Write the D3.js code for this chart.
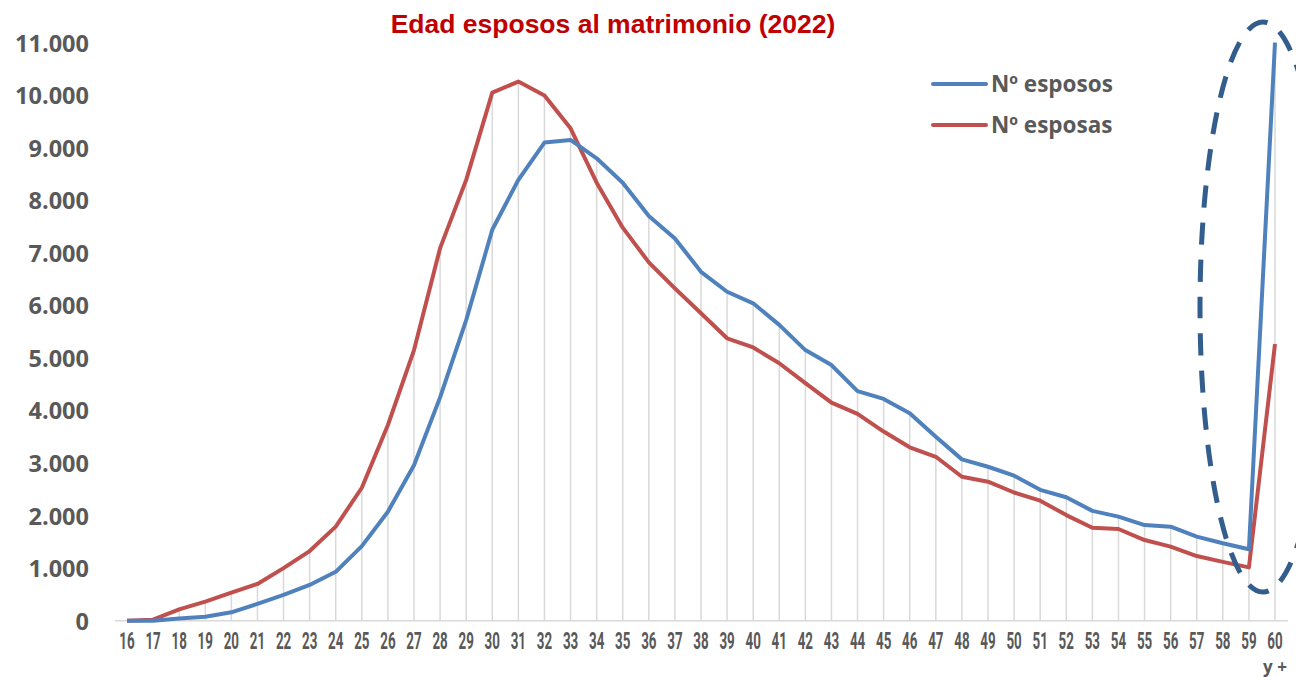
<!DOCTYPE html>
<html>
<head>
<meta charset="utf-8">
<script src="https://cdn.jsdelivr.net/npm/d3@7"></script>
<style>
  body { margin: 0; background: #fff; }
  svg { display: block; }
</style>
</head>
<body>
<div id="chart"></div>
<script>
// ages 16 .. 60 (60 = "60 y +")
var ages = ["16","17","18","19","20","21","22","23","24","25","26","27","28","29","30",
  "31","32","33","34","35","36","37","38","39","40","41","42","43","44","45",
  "46","47","48","49","50","51","52","53","54","55","56","57","58","59","60"];

var esposos = [0, 0, 40, 75, 160, 320, 490, 680, 930, 1420, 2075, 2960, 4250, 5720, 7440,
  8390, 9100, 9150, 8800, 8335, 7700, 7275, 6640, 6260, 6040, 5630, 5150, 4865, 4370, 4220,
  3950, 3500, 3070, 2930, 2760, 2490, 2350, 2090, 1980, 1820, 1790, 1600, 1475, 1360, 11000];

var esposas = [0, 20, 215, 362, 533, 700, 1000, 1325, 1790, 2530, 3725, 5150, 7090, 8390, 10050,
  10260, 9995, 9370, 8335, 7480, 6820, 6325, 5850, 5375, 5200, 4900, 4520, 4150, 3935, 3600,
  3300, 3120, 2740, 2645, 2440, 2285, 2010, 1770, 1745, 1535, 1410, 1230, 1120, 1015, 5265];

var yTicks = [0, 1000, 2000, 3000, 4000, 5000, 6000, 7000, 8000, 9000, 10000, 11000];

var W = 1296, H = 677;
var blue = "#4f81bd", red = "#c0504d", grey = "#595959";

var svg = d3.select("#chart").append("svg")
  .attr("width", W)
  .attr("height", H);

var x = d3.scalePoint()
  .domain(ages)
  .range([127, 1275]);

var y = d3.scaleLinear()
  .domain([0, 11000])
  .range([620.7, 42.7]);

var fmt = function (v) {
  return d3.format(",d")(v).replace(/,/g, ".");
};

// drop lines from the highest point of each age down to the axis
svg.append("g").selectAll("line")
  .data(ages)
  .enter().append("line")
  .attr("x1", function (d) { return x(d); })
  .attr("x2", function (d) { return x(d); })
  .attr("y1", function (d, i) { return y(Math.max(esposos[i], esposas[i])); })
  .attr("y2", y(0))
  .attr("stroke", "#d9d9d9")
  .attr("stroke-width", 1.5);

// baseline
svg.append("line")
  .attr("x1", 115).attr("x2", 1288)
  .attr("y1", y(0)).attr("y2", y(0))
  .attr("stroke", "#d9d9d9")
  .attr("stroke-width", 1.5);

// y axis labels
var yAxis = d3.axisLeft(y).tickValues(yTicks).tickFormat(fmt).tickSize(0).tickPadding(0);
var gy = svg.append("g")
  .attr("transform", "translate(89,0)")
  .call(yAxis);
gy.select(".domain").remove();
gy.selectAll("text")
  .attr("fill", grey)
  .attr("dy", "0.36em")
  .style("font-family", "'Open Sans', sans-serif")
  .style("font-weight", "bold")
  .style("font-size", "23.5px");

// x axis labels (narrow face)
svg.append("g").selectAll("text")
  .data(ages)
  .enter().append("text")
  .attr("transform", function (d) { return "translate(" + x(d) + ",648.5) scale(0.58,1)"; })
  .attr("text-anchor", "middle")
  .attr("fill", grey)
  .style("font-family", "Roboto, sans-serif")
  .style("font-weight", "bold")
  .style("font-size", "23px")
  .text(function (d) { return d; });

svg.append("text")
  .attr("x", x("60"))
  .attr("y", 673)
  .attr("text-anchor", "middle")
  .attr("fill", grey)
  .style("font-family", "'Open Sans', sans-serif")
  .style("font-weight", "bold")
  .style("font-size", "17px")
  .text("y +");

// series
var line = d3.line()
  .x(function (d, i) { return x(ages[i]); })
  .y(function (d) { return y(d); });

svg.append("path")
  .datum(esposas)
  .attr("d", line)
  .attr("fill", "none")
  .attr("stroke", red)
  .attr("stroke-width", 4)
  .attr("stroke-linejoin", "round");

svg.append("path")
  .datum(esposos)
  .attr("d", line)
  .attr("fill", "none")
  .attr("stroke", blue)
  .attr("stroke-width", 4)
  .attr("stroke-linejoin", "round");

// dashed ellipse highlighting the last group
svg.append("ellipse")
  .attr("cx", 1263)
  .attr("cy", 307)
  .attr("rx", 63)
  .attr("ry", 285)
  .attr("fill", "none")
  .attr("stroke", "#325d8c")
  .attr("stroke-width", 5)
  .attr("stroke-dasharray", "22,15");

// title
svg.append("text")
  .attr("x", 613)
  .attr("y", 32.5)
  .attr("text-anchor", "middle")
  .attr("fill", "#c00000")
  .style("font-family", "'Liberation Sans', Arial, sans-serif")
  .style("font-weight", "bold")
  .style("font-size", "26.5px")
  .text("Edad esposos al matrimonio (2022)");

// legend
var legend = [{ name: "Nº esposos", color: blue, y: 84 }, { name: "Nº esposas", color: red, y: 125 }];
var lg = svg.append("g").selectAll("g")
  .data(legend)
  .enter().append("g");
lg.append("line")
  .attr("x1", 933).attr("x2", 986)
  .attr("y1", function (d) { return d.y; })
  .attr("y2", function (d) { return d.y; })
  .attr("stroke", function (d) { return d.color; })
  .attr("stroke-width", 4)
  .attr("stroke-linecap", "round");
lg.append("text")
  .attr("x", 991)
  .attr("y", function (d) { return d.y + 8; })
  .attr("fill", grey)
  .style("font-family", "'Open Sans', sans-serif")
  .style("font-weight", "bold")
  .style("font-size", "22.5px")
  .text(function (d) { return d.name; });
</script>
</body>
</html>
